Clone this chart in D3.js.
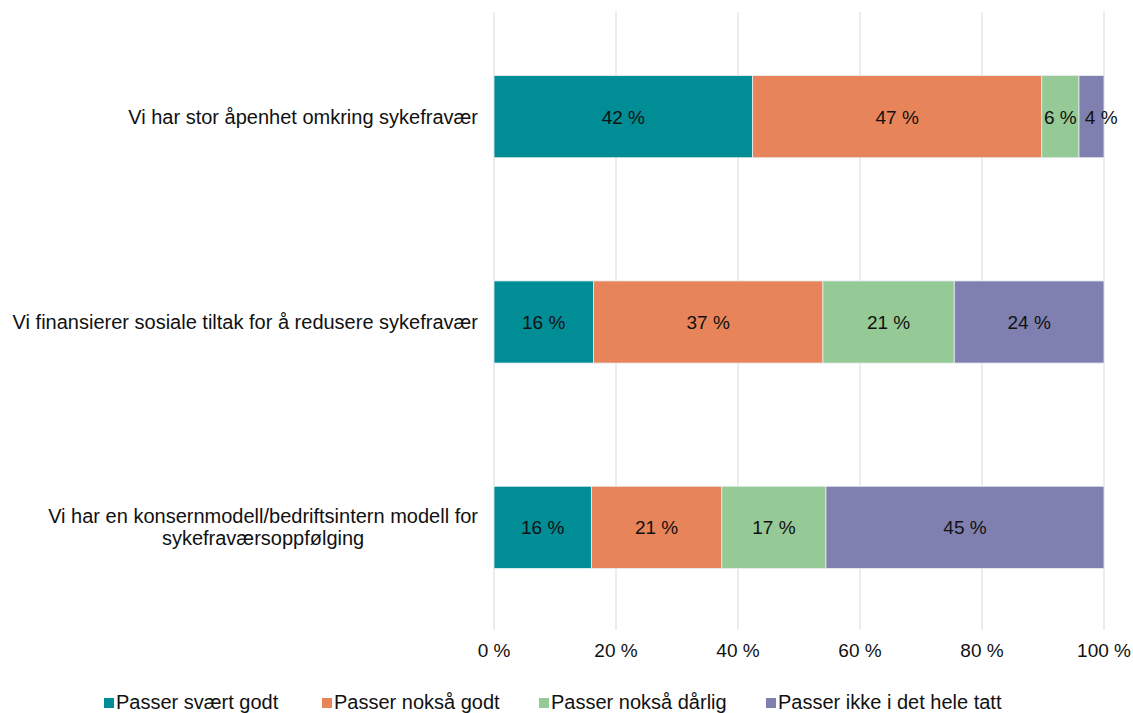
<!DOCTYPE html>
<html>
<head>
<meta charset="utf-8">
<script src="https://cdn.jsdelivr.net/npm/d3@7"></script>
<style>
  body { margin: 0; background: #fff; }
  text { font-family: "Liberation Sans", Arial, Helvetica, sans-serif; }
</style>
</head>
<body>
<svg id="chart" width="1133" height="713"></svg>
<script>
var categories = [
    ["Vi har stor åpenhet omkring sykefravær"],
    ["Vi finansierer sosiale tiltak for å redusere sykefravær"],
    ["Vi har en konsernmodell/bedriftsintern modell for", "sykefraværsoppfølging"]
];
var seriesNames = ["Passer svært godt", "Passer nokså godt", "Passer nokså dårlig", "Passer ikke i det hele tatt"];
var seriesColors = ["#008d96", "#e8845a", "#95c995", "#8080b0"];
var svaertGodt = [42.4, 16.2, 15.9];
var nokssaGodt = [47.4, 37.4, 21.3];
var nokssaDarlig = [6.1, 21.4, 17.0];
var ikkeIDetHele = [4.1, 24.4, 45.4];
var tickValues = [0, 0.2, 0.4, 0.6, 0.8, 1.0];

var svg = d3.select("#chart");
var plotLeft = 494, plotRight = 1104, plotTop = 14, plotBottom = 630;
var fs = 19, fsText = 20;

var rows = categories.map(function(c, i){
    return {
        cat: i,
        s0: svaertGodt[i],
        s1: nokssaGodt[i],
        s2: nokssaDarlig[i],
        s3: ikkeIDetHele[i]
    };
});
var keys = ["s0", "s1", "s2", "s3"];

var stack = d3.stack().keys(keys).offset(d3.stackOffsetExpand);
var stacked = stack(rows);

var x = d3.scaleLinear().domain([0, 1]).range([plotLeft, plotRight]);
var y = d3.scaleBand().domain(d3.range(categories.length)).range([plotTop, plotBottom]).paddingInner(0.6).paddingOuter(0.3);

// gridlines
svg.append("g")
    .selectAll("line")
    .data(tickValues)
    .join("line")
    .attr("x1", d => x(d)).attr("x2", d => x(d))
    .attr("y1", plotTop - 2).attr("y2", plotBottom)
    .attr("stroke", "#d9d9d9")
    .attr("stroke-width", 1);

// x tick labels
svg.append("g")
    .selectAll("text")
    .data(tickValues)
    .join("text")
    .attr("x", d => x(d))
    .attr("y", 657)
    .attr("text-anchor", "middle")
    .attr("font-size", fs)
    .attr("fill", "#111")
    .text(d => Math.round(d * 100) + " %");

// bars
var groups = svg.append("g")
    .selectAll("g")
    .data(stacked)
    .join("g")
    .attr("fill", (d, i) => seriesColors[i]);

groups.selectAll("rect")
    .data(d => d)
    .join("rect")
    .attr("x", d => x(d[0]))
    .attr("y", d => y(d.data.cat))
    .attr("width", d => x(d[1]) - x(d[0]))
    .attr("height", y.bandwidth())
    .attr("stroke", "#e8eef2")
    .attr("stroke-width", 0.8);

var valueLabels = svg.append("g");
categories.forEach(function(c, ci){
    var prevRight = -Infinity;
    stacked.forEach(function(s, si){
        var d = s[ci];
        var t = valueLabels.append("text")
            .attr("x", (x(d[0]) + x(d[1])) / 2)
            .attr("y", y(ci) + y.bandwidth() / 2 + 7)
            .attr("text-anchor", "middle")
            .attr("font-size", fs)
            .attr("fill", "#111")
            .text(Math.round(d.data[keys[si]]) + " %");
        var bb = t.node().getBBox();
        // push a label right when it would collide with the previous one
        if(bb.x < prevRight + 8){
            var shift = prevRight + 8 - bb.x;
            t.attr("x", +t.attr("x") + shift);
            bb = t.node().getBBox();
        }
        prevRight = bb.x + bb.width;
    });
});

// category labels
var catG = svg.append("g")
    .selectAll("text")
    .data(categories)
    .join("text")
    .attr("font-size", fsText)
    .attr("fill", "#111")
    .attr("text-anchor", "end");

catG.each(function(lines, i){
    var t = d3.select(this);
    var cy = y(i) + y.bandwidth() / 2 + 7 - (lines.length - 1) * 11;
    lines.forEach(function(line, j){
        t.append("tspan")
            .attr("x", 478)
            .attr("y", cy + j * 22)
            .text(line);
    });
    if(lines.length > 1){
        // center the other lines under the first one
        var w0 = t.select("tspan").node().getComputedTextLength();
        t.selectAll("tspan").each(function(d, j){
            if(j > 0){
                d3.select(this).attr("text-anchor", "middle").attr("x", 478 - w0 / 2);
            }
        });
    }
});

// legend
var legendX = [104, 322, 539, 766];
var legend = svg.append("g")
    .selectAll("g")
    .data(seriesNames)
    .join("g")
    .attr("transform", (d, i) => `translate(${legendX[i]}, 709)`);

legend.append("rect")
    .attr("x", 0).attr("y", -11)
    .attr("width", 10).attr("height", 10)
    .attr("fill", (d, i) => seriesColors[i]);

legend.append("text")
    .attr("x", 12)
    .attr("y", 0)
    .attr("font-size", fsText)
    .attr("fill", "#111")
    .text(d => d);
</script>
</body>
</html>
